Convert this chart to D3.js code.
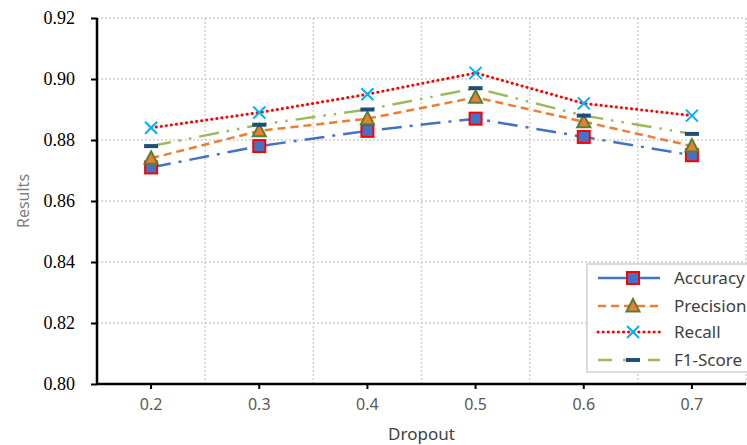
<!DOCTYPE html>
<html>
<head>
<meta charset="utf-8">
<script src="https://cdn.jsdelivr.net/npm/d3@7"></script>
<style>
  body { margin: 0; background: #fff; }
  svg { display: block; }
</style>
</head>
<body>
<div id="chart"></div>
<script>
// data
const dropout = ["0.2", "0.3", "0.4", "0.5", "0.6", "0.7"];
const accuracy  = [0.871, 0.878, 0.883, 0.887, 0.881, 0.875];
const precision = [0.874, 0.883, 0.887, 0.894, 0.886, 0.878];
const recall    = [0.884, 0.889, 0.895, 0.902, 0.892, 0.888];
const f1score   = [0.878, 0.885, 0.890, 0.897, 0.888, 0.882];
const yTicks = [0.80, 0.82, 0.84, 0.86, 0.88, 0.90, 0.92];

const W = 747, H = 445;
const margin = {top: 18, right: 1, bottom: 61, left: 97};
const width = W - margin.left - margin.right,
      height = H - margin.top - margin.bottom;

const series = [
  {name: "Accuracy",  values: accuracy,  color: "#4472C4", dash: "20,8,3,8", cap: "butt", marker: "square"},
  {name: "Precision", values: precision, color: "#ED7D31", dash: "8,5", cap: "butt", marker: "triangle"},
  {name: "Recall",    values: recall,    color: "#FF0000", dash: "0.1,5", cap: "round", marker: "cross"},
  {name: "F1-Score",  values: f1score,   color: "#9BBB59", dash: "20,8,2.5,8,2.5,8", cap: "butt", marker: "dash"}
];

const svg = d3.select("#chart").append("svg")
  .attr("width", W).attr("height", H);

const g = svg.append("g")
  .attr("transform", `translate(${margin.left},${margin.top})`);

const x = d3.scaleBand().domain(dropout).range([0, width]);
const y = d3.scaleLinear().domain([0.80, 0.92]).range([height, 0]);
const cx = d => x(d) + x.bandwidth() / 2;

// gridlines
g.append("g").selectAll("line")
  .data(yTicks.slice(1))
  .join("line")
  .attr("x1", 0).attr("x2", width)
  .attr("y1", d => y(d)).attr("y2", d => y(d))
  .attr("stroke", "#d0d0d0").attr("stroke-width", 1.5)
  .attr("stroke-dasharray", "2,2");

g.append("g").selectAll("line")
  .data(dropout)
  .join("line")
  .attr("x1", d => x(d) + x.bandwidth()).attr("x2", d => x(d) + x.bandwidth())
  .attr("y1", 0).attr("y2", height)
  .attr("stroke", "#d0d0d0").attr("stroke-width", 1.5)
  .attr("stroke-dasharray", "2,2");

// y axis
const yAxis = g.append("g")
  .call(d3.axisLeft(y).tickValues(yTicks).tickFormat(d3.format(".2f")).tickSize(6).tickPadding(16));
yAxis.select(".domain").attr("stroke", "#000").attr("stroke-width", 2.5).attr("d", `M0,0V${height}`);
yAxis.selectAll(".tick line").attr("stroke", "#000").attr("stroke-width", 2);
yAxis.selectAll("text")
  .style("font-family", "'Liberation Serif', 'DejaVu Serif', serif")
  .style("font-size", "18px")
  .attr("fill", "#000");

// x axis
const xAxis = g.append("g")
  .attr("transform", `translate(0,${height})`)
  .call(d3.axisBottom(x).tickSize(5).tickPadding(10));
xAxis.select(".domain").attr("stroke", "#000").attr("stroke-width", 2.5).attr("d", `M0,0H${width}`);
xAxis.selectAll(".tick line").attr("stroke", "#000").attr("stroke-width", 2);
xAxis.selectAll("text")
  .style("font-family", "'Noto Sans', sans-serif")
  .style("font-size", "16px")
  .attr("fill", "#595959");

// axis titles
svg.append("text")
  .attr("x", margin.left + width / 2)
  .attr("y", 440)
  .attr("text-anchor", "middle")
  .style("font-family", "'Noto Sans', sans-serif")
  .style("font-size", "17px")
  .attr("fill", "#404040")
  .text("Dropout");

svg.append("text")
  .attr("transform", `translate(29,${margin.top + height / 2}) rotate(-90)`)
  .attr("text-anchor", "middle")
  .style("font-family", "'Noto Sans', sans-serif")
  .style("font-size", "16px")
  .attr("fill", "#808080")
  .text("Results");

// marker drawing
function drawMarker(sel, type) {
  if (type === "square") {
    sel.append("rect")
      .attr("x", -6).attr("y", -6).attr("width", 12).attr("height", 12)
      .attr("fill", "#4472C4").attr("stroke", "#FF0000").attr("stroke-width", 2);
  } else if (type === "triangle") {
    sel.append("path")
      .attr("d", "M0,-7L6.5,5.5L-6.5,5.5Z")
      .attr("fill", "#ED7D31").attr("stroke", "#548235").attr("stroke-width", 2)
      .attr("stroke-linejoin", "miter");
  } else if (type === "cross") {
    sel.append("path")
      .attr("d", "M-6,-6L6,6M-6,6L6,-6")
      .attr("stroke", "#00B0F0").attr("stroke-width", 2).attr("fill", "none");
  } else if (type === "dash") {
    sel.append("rect")
      .attr("x", -7).attr("y", -2).attr("width", 14).attr("height", 4)
      .attr("fill", "#1F4E79");
  }
}

const line = d3.line().x(d => cx(d[0])).y(d => y(d[1]));

series.forEach(s => {
  const pts = dropout.map((d, i) => [d, s.values[i]]);
  g.append("path")
    .datum(pts)
    .attr("d", line)
    .attr("fill", "none")
    .attr("stroke", s.color)
    .attr("stroke-width", s.marker === "cross" ? 3 : 2.5)
    .attr("stroke-linecap", s.cap)
    .attr("stroke-dasharray", s.dash);

  g.append("g").selectAll("g")
    .data(pts)
    .join("g")
    .attr("transform", d => `translate(${cx(d[0])},${y(d[1])})`)
    .each(function() { drawMarker(d3.select(this), s.marker); });
});

// legend
const legend = svg.append("g").attr("transform", "translate(587,264)");
legend.append("rect")
  .attr("x", 0).attr("y", 0).attr("width", 175).attr("height", 108)
  .attr("fill", "#fff").attr("stroke", "#d0d0d0").attr("stroke-width", 1.5);

const rowY = [14, 42, 68, 96];
series.forEach((s, i) => {
  const row = legend.append("g").attr("transform", `translate(0,${rowY[i]})`);
  row.append("line")
    .attr("x1", 11).attr("x2", 73).attr("y1", 0).attr("y2", 0)
    .attr("stroke", s.color)
    .attr("stroke-width", s.marker === "cross" ? 3 : 2.5)
    .attr("stroke-linecap", s.cap)
    .attr("stroke-dasharray", s.marker === "square" ? null : (s.marker === "dash" ? "14,11" : s.dash));
  const m = row.append("g").attr("transform", "translate(46,0)");
  drawMarker(m, s.marker);
  row.append("text")
    .attr("x", 87).attr("y", 6)
    .style("font-family", "'Noto Sans', sans-serif")
    .style("font-size", "17px")
    .attr("fill", "#404040")
    .text(s.name);
});
</script>
</body>
</html>
